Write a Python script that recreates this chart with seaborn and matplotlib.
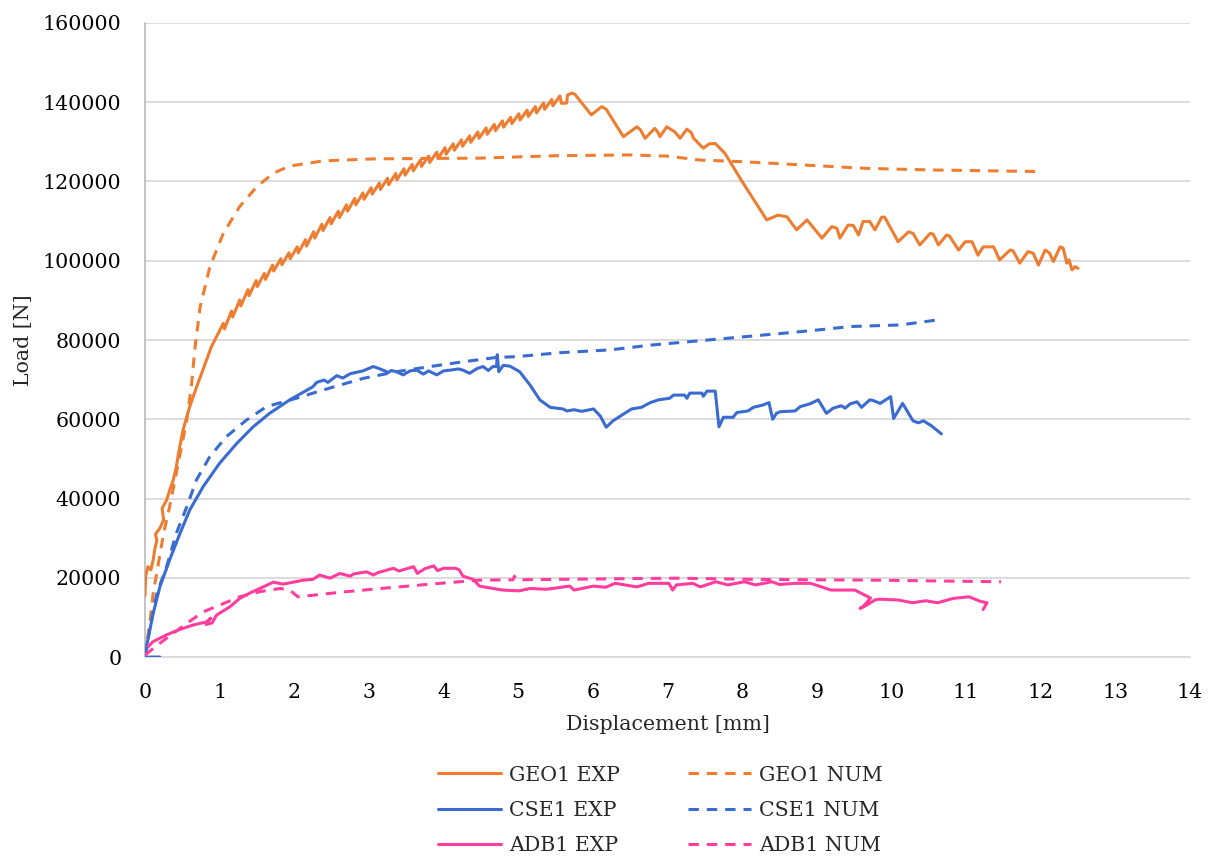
import matplotlib
matplotlib.use("Agg")
import matplotlib.pyplot as plt
import seaborn as sns

# ---------------- data: displacement [mm] / load [N] ----------------
geo1_exp_x = [0.00, 0.01, 0.04, 0.08, 0.11, 0.13, 0.16, 0.14, 0.20, 0.25, 0.23, 0.29, 0.33, 0.38,
              0.42, 0.45, 0.51, 0.60, 0.71, 0.76, 0.89,
              1.05, 1.065, 1.16, 1.175, 1.27, 1.285, 1.38, 1.395, 1.49, 1.505, 1.60, 1.615,
              1.71, 1.725, 1.82, 1.835, 1.93, 1.945, 2.04, 2.055, 2.15, 2.165, 2.26, 2.275,
              2.37, 2.385, 2.48, 2.495, 2.59, 2.605, 2.70, 2.715, 2.81, 2.825, 2.92, 2.935,
              3.03, 3.045, 3.14, 3.155, 3.25, 3.265, 3.36, 3.375, 3.47, 3.485, 3.58, 3.595,
              3.69, 3.705, 3.80, 3.815, 3.91, 3.925, 4.02, 4.035, 4.13, 4.145, 4.24, 4.255,
              4.35, 4.365, 4.46, 4.475, 4.57, 4.585, 4.68, 4.695, 4.79, 4.805, 4.90, 4.915,
              5.01, 5.025, 5.12, 5.135, 5.23, 5.245, 5.34, 5.355, 5.45, 5.465, 5.56,
              5.58, 5.65, 5.66, 5.72, 5.76,
              5.98, 6.12, 6.18, 6.41, 6.59, 6.64, 6.70, 6.83, 6.87, 6.90, 6.99, 7.10, 7.17,
              7.26, 7.32, 7.35, 7.48, 7.56, 7.64, 7.77, 8.00, 8.33, 8.48, 8.60, 8.73, 8.87,
              9.07, 9.20, 9.27, 9.31, 9.42, 9.49, 9.56, 9.62, 9.71, 9.78, 9.87, 9.91, 9.98,
              10.09, 10.23, 10.29, 10.38, 10.52, 10.56, 10.63, 10.74, 10.78, 10.90, 10.99,
              11.08, 11.16, 11.23, 11.37, 11.45, 11.59, 11.63, 11.72, 11.83, 11.90, 11.97,
              12.06, 12.12, 12.17, 12.26, 12.30, 12.33, 12.35, 12.38, 12.42, 12.46, 12.50]
geo1_exp_y = [15500, 20500, 22800, 22000, 24500, 27000, 29500, 31000, 32500, 34600, 37500, 39600, 42000, 44700,
              48000, 51400, 57300, 63200, 69100, 71600, 78300,
              84200, 82800, 87300, 85800, 90100, 88600, 92700, 91200, 95000, 93500, 96800, 95300,
              98900, 97400, 100500, 99000, 102000, 100500, 103500, 102000, 105300, 103700, 107300, 105700,
              109200, 107600, 110900, 109300, 112500, 110900, 114100, 112500, 115700, 114100, 117100, 115500,
              118400, 116800, 119600, 118000, 120800, 119200, 122000, 120400, 123200, 121600, 124300, 122700,
              125400, 123800, 126400, 124800, 127400, 125800, 128500, 126900, 129500, 127900, 130500, 128900,
              131500, 129900, 132500, 130900, 133500, 131900, 134400, 132800, 135300, 133700, 136200, 134600,
              137100, 135500, 138000, 136400, 138900, 137300, 139800, 138200, 140700, 139100, 141600,
              139700, 139800, 141800, 142300, 142000,
              136800, 138900, 138200, 131300, 133800, 133000, 130900, 133400, 132500, 131300, 133800, 132500, 130900,
              133200, 132300, 130900, 128400, 129500, 129600, 127100, 120000, 110300, 111500, 111100, 107800, 110300,
              105700, 108600, 108200, 105700, 109000, 108900, 106500, 109900, 109900, 107800, 111000, 111000, 108600,
              104800, 107300, 106900, 104000, 106900, 106700, 104000, 106500, 106200, 102700, 104800,
              104800, 101400, 103500, 103500, 100200, 102700, 102500, 99400, 102300, 101900, 98900,
              102700, 101900, 99800, 103500, 103200, 101000, 99400, 100200, 97700, 98500, 98100]

geo1_num_x = [0.00, 0.02, 0.07, 0.11, 0.18, 0.25, 0.33, 0.42, 0.49, 0.56, 0.62, 0.67, 0.74, 0.87,
              1.05, 1.27, 1.50, 1.72, 1.94, 2.39, 3.06, 3.73, 4.50, 5.00, 5.50, 6.00, 6.50, 7.00,
              7.44, 8.00, 8.78, 9.67, 10.56, 11.30, 11.99]
geo1_num_y = [0, 2600, 9300, 16100, 23600, 31200, 37900, 46400, 53100, 59800, 68000, 78000, 88400, 98500,
              106900, 113700, 118700, 122100, 123900, 125200, 125700, 125800, 125900, 126200, 126500, 126600,
              126700, 126400, 125400, 125000, 124200, 123300, 122900, 122700, 122500]

cse1_exp_x = [0.20, 0.00, 0.02, 0.11, 0.20, 0.33, 0.47, 0.60, 0.78, 1.00, 1.23, 1.45, 1.67, 1.94, 2.25,
              2.30, 2.40, 2.45, 2.57, 2.65, 2.75, 2.92, 3.06, 3.15, 3.26, 3.30, 3.37, 3.46, 3.55, 3.64,
              3.73, 3.80, 3.91, 4.00, 4.09, 4.20, 4.26, 4.35, 4.45, 4.53, 4.60, 4.66, 4.71, 4.72, 4.74,
              4.80, 4.89, 5.02, 5.16, 5.29, 5.43, 5.60, 5.65, 5.75, 5.85, 6.01, 6.10, 6.18, 6.27, 6.41,
              6.52, 6.65, 6.77, 6.88, 7.03, 7.08, 7.23, 7.26, 7.30, 7.46, 7.48, 7.53, 7.64, 7.69, 7.75,
              7.88, 7.93, 8.08, 8.15, 8.28, 8.36, 8.41, 8.46, 8.51, 8.71, 8.78, 8.91, 9.02, 9.13, 9.22,
              9.33, 9.38, 9.45, 9.54, 9.60, 9.71, 9.76, 9.85, 9.99, 10.03, 10.15, 10.29, 10.36, 10.43,
              10.54, 10.67]
cse1_exp_y = [0, 0, 2600, 11000, 17700, 24500, 31200, 37100, 43000, 48900, 53900, 58100, 61500, 64900, 68200,
              69300, 69900, 69300, 71000, 70400, 71500, 72200, 73300, 72700, 71800, 72300, 72000, 71200, 72200, 72400,
              71400, 72200, 71200, 72200, 72400, 72700, 72400, 71600, 72800, 73300, 72300, 73300, 73300, 76300, 72000,
              73600, 73400, 72000, 68600, 64900, 63000, 62600, 62100, 62400, 62000, 62600, 60800, 58000, 59600, 61300,
              62600, 63000, 64200, 64900, 65300, 66100, 66100, 65300, 66600, 66600, 65800, 67100, 67100, 58100, 60500,
              60500, 61700, 62100, 63000, 63600, 64200, 60000, 61500, 61900, 62100, 63200, 63900, 64900, 61500, 62800,
              63400, 62800, 63900, 64400, 63000, 64900, 64700, 64000, 65700, 60200, 64000, 59600, 59100, 59600,
              58300, 56300]

cse1_num_x = [0.00, 0.07, 0.16, 0.29, 0.42, 0.56, 0.69, 0.87, 1.09, 1.36, 1.63, 2.03, 2.39, 2.92, 3.37,
              3.82, 4.26, 4.71, 4.98, 5.56, 6.23, 6.77, 7.66, 8.55, 9.00, 9.45, 10.12, 10.67]
cse1_num_y = [0, 7700, 16100, 22800, 31200, 37900, 44700, 50600, 55600, 59800, 63200, 65300, 67400, 70300, 72000,
              73300, 74500, 75600, 75800, 76800, 77500, 78700, 80200, 81700, 82500, 83400, 83800, 85200]

adb1_exp_x = [0.00, 0.11, 0.29, 0.47, 0.65, 0.83, 0.88, 0.82, 0.90, 0.96, 1.14, 1.27, 1.41, 1.54, 1.72,
              1.85, 1.99, 2.12, 2.25, 2.34, 2.48, 2.61, 2.75, 2.80, 2.97, 3.06, 3.12, 3.33, 3.40, 3.60,
              3.65, 3.75, 3.87, 3.92, 4.00, 4.16, 4.21, 4.26, 4.40, 4.48, 4.79, 5.01, 5.16, 5.38, 5.69,
              5.75, 6.01, 6.17, 6.30, 6.59, 6.75, 7.02, 7.07, 7.12, 7.34, 7.44, 7.65, 7.81, 8.03, 8.18,
              8.40, 8.50, 8.71, 8.92, 9.19, 9.51, 9.72, 9.62, 9.58, 9.66, 9.78, 9.83, 10.09, 10.28,
              10.46, 10.62, 10.83, 11.04, 11.20, 11.28, 11.23]
adb1_exp_y = [1800, 3900, 5600, 7000, 8100, 8900, 9800, 8200, 8600, 10600, 12700, 14800, 16200, 17300, 18900,
              18400, 18900, 19400, 19600, 20700, 19900, 21100, 20400, 21000, 21500, 20700, 21300, 22400, 21700, 22800,
              21100, 22300, 23000, 21800, 22400, 22400, 22000, 20400, 19600, 17900, 16900, 16700, 17300, 17100, 17900,
              16900, 17900, 17600, 18600, 17700, 18600, 18600, 16900, 18200, 18600, 17700, 19000, 18200, 19000, 18200,
              19000, 18300, 18600, 18600, 16900, 16900, 14900, 12700, 12300, 13000, 14400, 14600, 14400, 13700,
              14200, 13700, 14800, 15200, 14000, 13700, 12000]

adb1_num_x = [0.00, 0.20, 0.38, 0.56, 0.78, 1.00, 1.27, 1.54, 1.81, 1.94, 2.05, 2.25, 2.70, 3.28, 3.95,
              4.48, 4.93, 4.95, 4.98, 5.54, 7.12, 8.18, 9.77, 11.47]
adb1_num_y = [500, 3500, 6000, 8500, 11400, 13100, 15200, 16500, 17300, 16900, 15200, 15600, 16500, 17500, 18600,
              19400, 19500, 20400, 19500, 19600, 19900, 19600, 19400, 19000]

x_ticks = list(range(0, 15))
y_ticks = [0, 20000, 40000, 60000, 80000, 100000, 120000, 140000, 160000]

# ---------------- styling ----------------
sns.set_style("white")
plt.rcParams["font.family"] = ["DejaVu Serif"]
FS = 14.8
plt.rcParams["font.size"] = FS

ORANGE = "#ED7D31"
BLUE = "#3A6BD0"
PINK = "#FF3D9E"
LW = 2.2
DASH = (3.4, 2.6)

fig = plt.figure(figsize=(12.16, 8.60), dpi=100)
ax = fig.add_axes([0.1192, 0.2360, 0.8594, 0.7373])

series = [
    (geo1_exp_x, geo1_exp_y, ORANGE, None, "GEO1 EXP"),
    (cse1_exp_x, cse1_exp_y, BLUE, None, "CSE1 EXP"),
    (adb1_exp_x, adb1_exp_y, PINK, None, "ADB1 EXP"),
    (geo1_num_x, geo1_num_y, ORANGE, DASH, "GEO1 NUM"),
    (cse1_num_x, cse1_num_y, BLUE, DASH, "CSE1 NUM"),
    (adb1_num_x, adb1_num_y, PINK, DASH, "ADB1 NUM"),
]

for xs, ys, col, dash, name in series:
    sns.lineplot(x=xs, y=ys, sort=False, estimator=None, color=col, linewidth=LW,
                 ax=ax, label=name, zorder=3)
    if dash is not None:
        ax.lines[-1].set_dashes(dash)

ax.set_xlim(0, 14)
ax.set_ylim(0, 160000)
ax.set_xticks(x_ticks)
ax.set_yticks(y_ticks)
ax.set_xticklabels([str(v) for v in x_ticks])
ax.set_yticklabels([str(v) for v in y_ticks])
ax.tick_params(axis="both", length=0, labelsize=FS, colors="#000000")
ax.tick_params(axis="x", pad=19)
ax.tick_params(axis="y", pad=17)

ax.yaxis.grid(True, color="#D9D9D9", linewidth=1.3, zorder=0)
ax.xaxis.grid(False)
ax.set_axisbelow(True)
for side in ["top", "right"]:
    ax.spines[side].set_visible(False)
ax.spines["left"].set_color("#BFBFBF")
ax.spines["left"].set_linewidth(1.3)
ax.spines["bottom"].set_color("#D9D9D9")
ax.spines["bottom"].set_linewidth(1.3)

ax.set_xlabel("Displacement [mm]", fontsize=FS, labelpad=9)
ax.set_ylabel("Load [N]", fontsize=FS, labelpad=7)

ax.get_legend().remove()
handles, labels = ax.get_legend_handles_labels()
fig.legend(handles, labels, loc="center", bbox_to_anchor=(0.543, 0.0575), ncol=2,
           frameon=False, fontsize=FS, handlelength=3.06, handletextpad=0.4,
           columnspacing=3.3, labelspacing=0.8)

fig.savefig("out.png", dpi=100)
